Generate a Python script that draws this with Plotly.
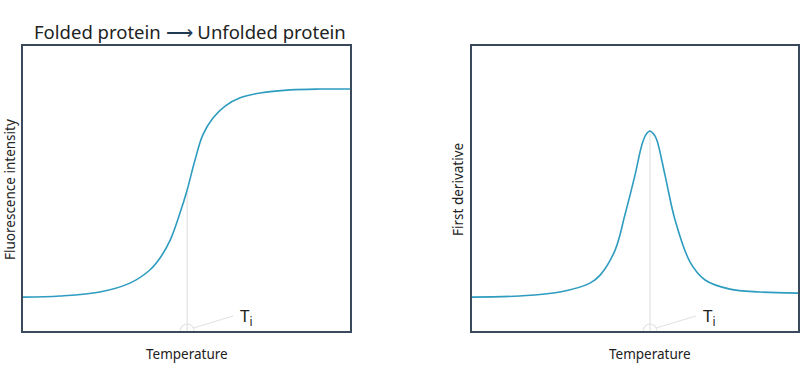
import numpy as np
import plotly.graph_objects as go

# ---- data (temperature in arbitrary units 0-100, signal normalised 0-100) ----
temp_left = [0, 11.3, 23.5, 32.7, 38.8, 41.9, 45.0, 48.0, 50.2, 52.6, 55.0, 58.1, 61.8, 66.4, 72.5, 81.7, 90.8, 100]
fluor = [11.9, 12.3, 13.7, 16.8, 21.4, 25.6, 31.9, 41.4, 49.5, 60.0, 68.8, 74.7, 78.9, 81.8, 83.5, 84.6, 84.9, 84.9]

temp_right = [0, 14.7, 27.0, 36.2, 39.3, 43.9, 46.9, 50.0, 52.1, 53.4, 54.6, 55.8, 56.7, 59.2, 62.3, 66.9, 71.5, 79.1, 88.3, 100]
deriv = [11.9, 12.3, 13.7, 16.8, 19.6, 28.4, 40.7, 54.7, 65.3, 69.0, 70.2, 69.0, 67.0, 54.7, 38.9, 24.2, 17.9, 14.7, 13.7, 13.3]

ti_left = 50.2
ti_right = 54.6

title_text = "Folded protein <span style='color:#1f3a52'>⟶</span> Unfolded protein"
ylabel_left = "Fluorescence intensity"
ylabel_right = "First derivative"
xlabel = "Temperature"

LINE = "#2e9cc0"
BOX = "#3a4a5c"
GUIDE = "#e2e2e2"
FONT = "Noto Sans"

fig = go.Figure()
fig.add_trace(go.Scatter(x=temp_left, y=fluor, mode="lines", line=dict(color=LINE, width=1.6, shape="spline", smoothing=1.0),
                         xaxis="x", yaxis="y", hoverinfo="skip"))
fig.add_trace(go.Scatter(x=temp_right, y=deriv, mode="lines", line=dict(color=LINE, width=1.6, shape="spline", smoothing=1.0),
                         xaxis="x2", yaxis="y2", hoverinfo="skip"))

ydom = [1 - 331 / 369, 1 - 46 / 369]
axcommon = dict(showgrid=False, zeroline=False, showticklabels=False, ticks="",
                showline=True, mirror=True, linecolor=BOX, linewidth=1.8, range=[0, 100], fixedrange=True)

fig.update_layout(
    width=800, height=369, margin=dict(l=0, r=0, t=0, b=0),
    paper_bgcolor="white", plot_bgcolor="white", showlegend=False,
    font=dict(family=FONT, color="#222222"),
    xaxis=dict(domain=[23 / 800, 350 / 800], anchor="y", **axcommon),
    yaxis=dict(domain=ydom, anchor="x", **axcommon),
    xaxis2=dict(domain=[472 / 800, 798 / 800], anchor="y2", **axcommon),
    yaxis2=dict(domain=ydom, anchor="x2", **axcommon),
)

for ti, temps, vals, xr, yr in [(ti_left, temp_left, fluor, "x", "y"), (ti_right, temp_right, deriv, "x2", "y2")]:
    ytop = float(np.interp(ti, temps, vals))
    fig.add_shape(type="line", xref=xr, yref=yr, x0=ti, x1=ti, y0=0, y1=ytop,
                  line=dict(color=GUIDE, width=1.2), layer="below")
    fig.add_shape(type="circle", xref=xr, yref=yr, xsizemode="pixel", ysizemode="pixel",
                  xanchor=ti, yanchor=0, x0=-7, x1=7, y0=-7, y1=7,
                  line=dict(color=GUIDE, width=1.2), fillcolor="rgba(0,0,0,0)")
    fig.add_shape(type="line", xref=xr, yref=yr, xsizemode="pixel", ysizemode="pixel",
                  xanchor=ti, yanchor=0, x0=6, x1=46, y0=3, y1=15,
                  line=dict(color=GUIDE, width=1.2))
    fig.add_annotation(x=ti, y=0, xref=xr, yref=yr, text="T<sub>i</sub>", showarrow=False,
                       xanchor="center", yanchor="middle",
                       xshift=59, yshift=15, font=dict(size=17, color="#222222", family=FONT))

def label(x, y, text, size, angle=0):
    fig.add_annotation(x=x / 800, y=1 - y / 369, xref="paper", yref="paper", text=text, showarrow=False,
                       xanchor="center", yanchor="middle", textangle=angle,
                       font=dict(size=size, color="#222222", family=FONT))

label(190, 31, title_text, 18.5)
label(187, 354, xlabel, 13.5)
label(650, 354, xlabel, 13.5)
label(10, 190, ylabel_left, 13.5, -90)
label(458, 190, ylabel_right, 13.5, -90)

fig.write_html("out.html")
